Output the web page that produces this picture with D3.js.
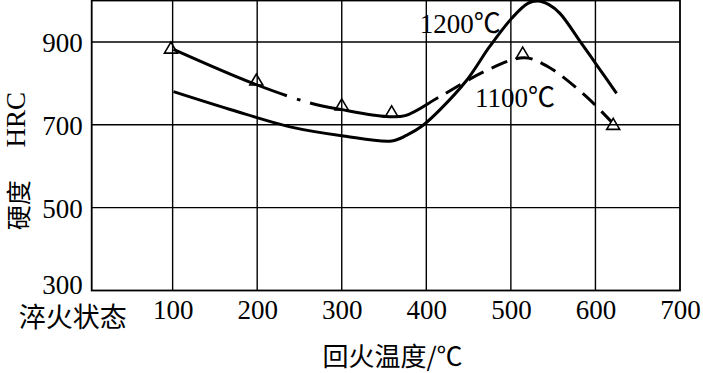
<!DOCTYPE html>
<html><head><meta charset="utf-8">
<script src="https://cdn.jsdelivr.net/npm/d3@7"></script>
<style>body{margin:0;background:#fff}svg{display:block}</style>
</head><body><svg id="c" width="703" height="373"></svg>
<script>
// ---- data ----
const xTicks = [100, 200, 300, 400, 500, 600, 700];
const yTicks = [300, 500, 700, 900];
const xStartLabel = "淬火状态";
const xTitle = "回火温度/℃";
const yTitleCn = "硬度";
const yTitleUnit = "HRC";
const seriesNames = ["1200℃", "1100℃"];
// 1200℃ quench – solid curve
const temp1200 = [101,168,239,302,359,377,395,416,448,475,501,520,532,545,558,582,603,625];
const hrc1200  = [780,737,695,673,661,675,697,736,808,889,957,993,999,990,969,901,840,776];
// 1100℃ quench – mixed line style curve
const temp1100 = [101,195,262,302,353,375,416,471,516,544,587,619];
const hrc1100  = [882,800,753,736,720,722,768,831,862,840,772,707];
// measured points (triangles) for 1100℃
const markTemp = [98,199,300,359,514,621];
const markHrc  = [885,808,748,731,873,701];

// ---- layout ----
const svg = d3.select("#c");
const x = d3.scaleLinear().domain([4.3, 700]).range([91.7, 680]);
const y = d3.scaleLinear().domain([300, 1000]).range([290.5, 0.5]);
const serif = "'Liberation Serif','Times New Roman','Noto Sans CJK SC',serif";
const cjk = "'Noto Sans CJK SC','Liberation Serif',sans-serif";

// grid
const g = svg.append("g");
g.selectAll(".vg").data(xTicks.filter(d => d < 700)).join("line")
  .attr("x1", d => x(d)).attr("x2", d => x(d))
  .attr("y1", y(1000)).attr("y2", y(300))
  .attr("stroke", "#000").attr("stroke-width", 1.4);
g.selectAll(".hg").data(yTicks.filter(d => d > 300)).join("line")
  .attr("x1", x(4.3)).attr("x2", x(700))
  .attr("y1", d => y(d)).attr("y2", d => y(d))
  .attr("stroke", "#000").attr("stroke-width", 1.4);
// frame
g.append("rect")
  .attr("x", x(4.3)).attr("y", y(1000))
  .attr("width", x(700) - x(4.3)).attr("height", y(300) - y(1000))
  .attr("fill", "none").attr("stroke", "#000").attr("stroke-width", 1.8);

// axis labels via d3 axes (no domain/ticks lines)
const xAxis = svg.append("g").attr("transform", `translate(0,${y(300)})`)
  .call(d3.axisBottom(x).tickValues(xTicks).tickSize(0).tickPadding(0));
xAxis.select(".domain").remove();
xAxis.selectAll("text").attr("font-family", serif).attr("font-size", 27)
  .attr("fill", "#000").attr("dy", null).attr("y", 28);

const yAxis = svg.append("g").attr("transform", `translate(${x(4.3)},0)`)
  .call(d3.axisLeft(y).tickValues(yTicks).tickSize(0).tickPadding(9));
yAxis.select(".domain").remove();
yAxis.selectAll("text").attr("font-family", serif).attr("font-size", 27)
  .attr("fill", "#000").attr("dy", "0.36em")
  .attr("transform", d => d === 300 ? "translate(0,-7)" : null);

svg.append("text").text(xStartLabel)
  .attr("x", x(4.3) - 19).attr("y", y(300) + 36)
  .attr("text-anchor", "middle").attr("font-family", cjk).attr("font-size", 27)
  .attr("fill", "#000");

svg.append("text").text(xTitle)
  .attr("x", x(360)).attr("y", 366)
  .attr("text-anchor", "middle").attr("font-family", cjk).attr("font-size", 26)
  .attr("fill", "#000");

// rotated y title, two parts
svg.append("text").text(yTitleUnit)
  .attr("transform", `translate(25,${y(712)}) rotate(-90)`)
  .attr("text-anchor", "middle").attr("font-family", serif).attr("font-size", 27)
  .attr("fill", "#000");
svg.append("text").text(yTitleCn)
  .attr("transform", `translate(28,${y(506)}) rotate(-90)`)
  .attr("text-anchor", "middle").attr("font-family", cjk).attr("font-size", 25)
  .attr("fill", "#000");

// curves
const line = d3.line().x(d => x(d[0])).y(d => y(d[1])).curve(d3.curveCatmullRom.alpha(0.5));
const d1200 = temp1200.map((t, i) => [t, hrc1200[i]]);
const d1100 = temp1100.map((t, i) => [t, hrc1100[i]]);

svg.append("path").attr("d", line(d1200))
  .attr("fill", "none").attr("stroke", "#000").attr("stroke-width", 3);

const p1100 = svg.append("path").attr("d", line(d1100))
  .attr("fill", "none").attr("stroke", "#000").attr("stroke-width", 3);

// build a dash pattern: solid, dot, solid, then dashes
(function () {
  const node = p1100.node();
  const total = node.getTotalLength();
  function lenAt(v) {
    const px = x(v);
    let lo = 0, hi = total;
    for (let k = 0; k < 40; k++) {
      const mid = (lo + hi) / 2;
      if (node.getPointAtLength(mid).x < px) lo = mid; else hi = mid;
    }
    return (lo + hi) / 2;
  }
  const a = lenAt(235), b = lenAt(247), c = lenAt(251), d = lenAt(262.5), e = lenAt(414);
  const arr = [a, b - a, c - b, d - c, e - d];
  let pos = e;
  let on = false;
  while (pos < total) {
    const seg = on ? 17 : 9;
    arr.push(seg);
    pos += seg;
    on = !on;
  }
  if (arr.length % 2 === 1) arr.push(0);
  p1100.attr("stroke-dasharray", arr.join(","));
})();

// triangles
svg.selectAll(".tri").data(markTemp.map((t, i) => [t, markHrc[i]])).join("path")
  .attr("d", "M0,-6L6.5,5L-6.5,5Z")
  .attr("transform", d => `translate(${x(d[0])},${y(d[1])})`)
  .attr("fill", "none").attr("stroke", "#000").attr("stroke-width", 1.6);

// series labels
const labelPos = [[440, 946], [505, 767]];
svg.selectAll(".lab").data(seriesNames).join("text")
  .text(d => d)
  .attr("x", (d, i) => x(labelPos[i][0]))
  .attr("y", (d, i) => y(labelPos[i][1]))
  .attr("dy", "0.36em")
  .attr("text-anchor", "middle").attr("font-family", serif).attr("font-size", 27)
  .attr("fill", "#000");
</script></body></html>
